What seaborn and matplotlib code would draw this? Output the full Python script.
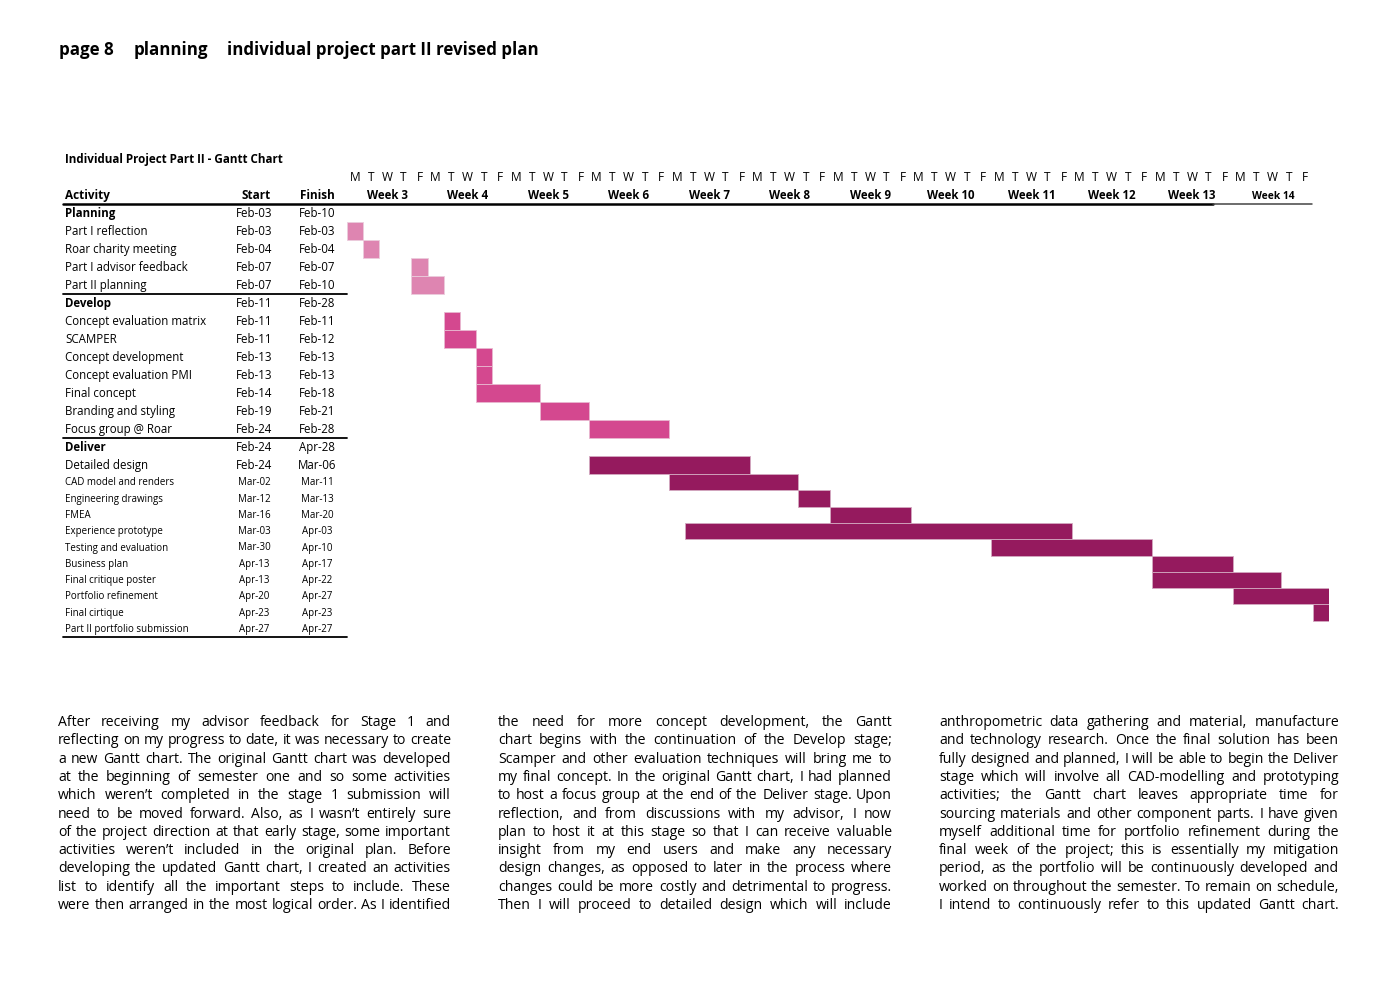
import numpy as np
import pandas as pd
import seaborn as sns
import matplotlib.pyplot as plt
from matplotlib.transforms import Affine2D

# ---- data ----
activities = ["Planning", "Part I reflection", "Roar charity meeting", "Part I advisor feedback",
              "Part II planning", "Develop", "Concept evaluation matrix", "SCAMPER",
              "Concept development", "Concept evaluation PMI", "Final concept",
              "Branding and styling", "Focus group @ Roar", "Deliver", "Detailed design",
              "CAD model and renders", "Engineering drawings", "FMEA", "Experience prototype",
              "Testing and evaluation", "Business plan", "Final critique poster",
              "Portfolio refinement", "Final cirtique", "Part II portfolio submission"]
phases = ["Planning"] * 5 + ["Develop"] * 8 + ["Deliver"] * 12
summary_rows = ["Planning", "Develop", "Deliver"]
start_txt = ["Feb-03", "Feb-03", "Feb-04", "Feb-07", "Feb-07", "Feb-11", "Feb-11", "Feb-11",
             "Feb-13", "Feb-13", "Feb-14", "Feb-19", "Feb-24", "Feb-24", "Feb-24", "Mar-02",
             "Mar-12", "Mar-16", "Mar-03", "Mar-30", "Apr-13", "Apr-13", "Apr-20", "Apr-23", "Apr-27"]
finish_txt = ["Feb-10", "Feb-03", "Feb-04", "Feb-07", "Feb-10", "Feb-28", "Feb-11", "Feb-12",
              "Feb-13", "Feb-13", "Feb-18", "Feb-21", "Feb-28", "Apr-28", "Mar-06", "Mar-11",
              "Mar-13", "Mar-20", "Apr-03", "Apr-10", "Apr-17", "Apr-22", "Apr-27", "Apr-23", "Apr-27"]
# bars as drawn in the picture (None = no bar)
bar_from = [None, "Feb-03", "Feb-04", "Feb-07", "Feb-07", None, "Feb-11", "Feb-11", "Feb-13",
            "Feb-13", "Feb-13", "Feb-19", "Feb-24", None, "Feb-24", "Mar-02", "Mar-12", "Mar-16",
            "Mar-03", "Mar-30", "Apr-13", "Apr-13", "Apr-20", "Apr-27", None]
bar_to = [None, "Feb-03", "Feb-04", "Feb-07", "Feb-10", None, "Feb-11", "Feb-12", "Feb-13",
          "Feb-13", "Feb-18", "Feb-21", "Feb-28", None, "Mar-06", "Mar-11", "Mar-13", "Mar-20",
          "Apr-03", "Apr-10", "Apr-17", "Apr-22", "Apr-27", "Apr-27", None]
weeks = ["Week %d" % w for w in range(3, 15)]
day_letters = ["M", "T", "W", "T", "F"]
first_day = "2020-02-03"

col1 = ["After receiving my advisor feedback for Stage 1 and",
        "reflecting on my progress to date, it was necessary to create",
        "a new Gantt chart. The original Gantt chart was developed",
        "at the beginning of semester one and so some activities",
        "which weren’t completed in the stage 1 submission will",
        "need to be moved forward. Also, as I wasn’t entirely sure",
        "of the project direction at that early stage, some important",
        "activities weren’t included in the original plan. Before",
        "developing the updated Gantt chart, I created an activities",
        "list to identify all the important steps to include. These",
        "were then arranged in the most logical order. As I identified"]
col2 = ["the need for more concept development, the Gantt",
        "chart begins with the continuation of the Develop stage;",
        "Scamper and other evaluation techniques will bring me to",
        "my final concept. In the original Gantt chart, I had planned",
        "to host a focus group at the end of the Deliver stage. Upon",
        "reflection, and from discussions with my advisor, I now",
        "plan to host it at this stage so that I can receive valuable",
        "insight from my end users and make any necessary",
        "design changes, as opposed to later in the process where",
        "changes could be more costly and detrimental to progress.",
        "Then I will proceed to detailed design which will include"]
col3 = ["anthropometric data gathering and material, manufacture",
        "and technology research. Once the final solution has been",
        "fully designed and planned, I will be able to begin the Deliver",
        "stage which will involve all CAD-modelling and prototyping",
        "activities; the Gantt chart leaves appropriate time for",
        "sourcing materials and other component parts. I have given",
        "myself additional time for portfolio refinement during the",
        "final week of the project; this is essentially my mitigation",
        "period, as the portfolio will be continuously developed and",
        "worked on throughout the semester. To remain on schedule,",
        "I intend to continuously refer to this updated Gantt chart."]

palette = {"Planning": "#DE85B1", "Develop": "#D4488F", "Deliver": "#951A5E"}

sns.set_theme(style="white")
plt.rcParams["font.family"] = ["Open Sans", "DejaVu Sans"]
plt.rcParams["text.color"] = "black"


def day_index(s):
    d = pd.to_datetime("2020-" + s, format="%Y-%b-%d")
    return int(np.busday_count(first_day, d.strftime("%Y-%m-%d")))


df = pd.DataFrame({"activity": activities, "phase": phases,
                   "start": start_txt, "finish": finish_txt,
                   "bfrom": bar_from, "bto": bar_to})

# ---- layout (pixels) ----
W, H = 1400, 990
fig = plt.figure(figsize=(W / 100, H / 100), dpi=100)
T = Affine2D().scale(1 / W, -1 / H).translate(0, 1) + fig.transFigure

row_h = np.array([18.0] * 15 + [16.3] * 10)
edges = np.concatenate([[0], np.cumsum(row_h)])
centers = (edges[:-1] + edges[1:]) / 2
top = 204
day_w = 16.1
n_days = 61
gx0 = 347

ax = fig.add_axes([gx0 / W, 1 - (top + edges[-1]) / H, n_days * day_w / W, edges[-1] / H])
ax.set_xlim(0, n_days)
ax.set_ylim(edges[-1], 0)
ax.axis("off")

bars = df.dropna(subset=["bfrom"]).copy()
bars["left"] = bars["bfrom"].map(day_index)
bars["dur"] = bars["bto"].map(day_index) + 1 - bars["left"]
for ph, g in bars.groupby("phase"):
    ax.barh(centers[g.index], g["dur"], left=g["left"], height=row_h[g.index],
            color=palette[ph], edgecolor=sns.light_palette(palette[ph], 4)[1], linewidth=0.6)

# ---- header ----
bold = dict(transform=T, fontweight="bold", va="baseline")
fig.text(59, 55, "page 8", fontsize=12.2, **bold)
fig.text(134, 55, "planning", fontsize=12.2, **bold)
fig.text(227, 55, "individual project part II revised plan", fontsize=12.2, **bold)
fig.text(65, 163, "Individual Project Part II - Gantt Chart", fontsize=8.4, **bold)

for w, lab in enumerate(weeks):
    for d, l in enumerate(day_letters):
        ax.text(w * 5 + d + 0.5, -23, l, ha="center", va="baseline", fontsize=8.6,
                clip_on=False)
    ax.text(w * 5 + 2.5, -5, lab, ha="center", va="baseline",
            fontsize=8.3 if w < 11 else 7.4, fontweight="bold", clip_on=False)

fig.text(65, 199, "Activity", fontsize=8.5, **bold)
fig.text(256, 199, "Start", fontsize=8.5, ha="center", **bold)
fig.text(317, 199, "Finish", fontsize=8.5, ha="center", **bold)

fig.add_artist(plt.Line2D([63, 1213], [204, 204], transform=T, color="black", lw=1.8))
fig.add_artist(plt.Line2D([1213, 1312], [204, 204], transform=T, color="#444444", lw=1.1))

# ---- table ----
for i, r in df.iterrows():
    fs = 8.3 if i < 15 else 7.0
    y = top + centers[i] + fs * 0.45
    is_sum = r["activity"] in summary_rows
    fig.text(65, y, r["activity"], transform=T, fontsize=fs, va="baseline",
             fontweight="bold" if is_sum else "normal")
    fig.text(254, y, r["start"], transform=T, fontsize=fs, va="baseline", ha="center")
    fig.text(317, y, r["finish"], transform=T, fontsize=fs, va="baseline", ha="center")
    if i + 1 < len(df) and df["activity"][i + 1] in summary_rows:
        fig.add_artist(plt.Line2D([63, 347], [top + edges[i + 1]] * 2, transform=T,
                                  color="black", lw=1.3))
fig.add_artist(plt.Line2D([63, 347], [top + edges[-1]] * 2, transform=T, color="black", lw=1.3))

# ---- justified body text ----
renderer = fig.canvas.get_renderer()
columns = [(col1, 58, 451), (col2, 498, 892), (col3, 939, 1339)]
ratio = []
for lines, x0, x1 in columns:
    for line in lines:
        t = fig.text(0, 0, line, fontsize=10, transform=T)
        ratio.append((x1 - x0) / t.get_window_extent(renderer).width)
        t.remove()
body_fs = 10 * min(ratio) * 0.995

for lines, x0, x1 in columns:
    for k, line in enumerate(lines):
        y = 726 + k * 18.3
        words = line.split()
        arts = [fig.text(0, 0, w, fontsize=body_fs, transform=T, va="baseline")
                for w in words]
        ws = [a.get_window_extent(renderer).width for a in arts]
        gap = (x1 - x0 - sum(ws)) / (len(words) - 1)
        x = x0
        for a, w in zip(arts, ws):
            a.set_position((x, y))
            x += w + gap

fig.savefig("out.png", dpi=100, facecolor="white")
